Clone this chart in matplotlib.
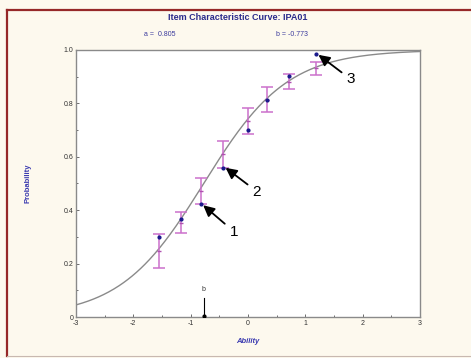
import numpy as np
import matplotlib
matplotlib.use("Agg")
import matplotlib.pyplot as plt
from matplotlib.lines import Line2D

# ---- data ----
a_param = 0.805
b_param = -0.773
D_const = 1.7
group_ability = [-1.55, -1.174, -0.825, -0.43, 0.006, 0.326, 0.72, 1.186]
observed_prop = [0.298, 0.366, 0.422, 0.559, 0.700, 0.811, 0.903, 0.986]
err_low = [0.185, 0.313, 0.425, 0.559, 0.687, 0.768, 0.853, 0.907]
err_high = [0.311, 0.394, 0.522, 0.660, 0.781, 0.861, 0.911, 0.955]
x_ticks = [-3, -2, -1, 0, 1, 2, 3]
x_tick_labels = ["-3", "-2", "-1", "0", "1", "2", "3"]
y_ticks = [0, 0.2, 0.4, 0.6, 0.8, 1.0]
y_tick_labels = ["0", "0.2", "0.4", "0.6", "0.8", "1.0"]
# annotation: (target x, target y, text x, text y, label)
arrows = [(-0.80, 0.422, -0.32, 0.32, "1"),
          (-0.41, 0.562, 0.08, 0.47, "2"),
          (1.21, 0.985, 1.72, 0.89, "3")]

font = ['Liberation Sans Narrow', 'Liberation Sans', 'DejaVu Sans']
plt.rcParams['font.family'] = font

fig = plt.figure(figsize=(4.71, 3.58), dpi=100)
fig.patch.set_facecolor('#fdf9ee')

# frame lines
fig.add_artist(Line2D([7/471, 7/471], [0.006, 1-10/358], transform=fig.transFigure,
                      color='#962828', lw=1.6))
fig.add_artist(Line2D([7/471, 1.0], [1-10/358, 1-10/358], transform=fig.transFigure,
                      color='#962828', lw=1.6))
fig.add_artist(Line2D([7/471, 1.0], [0.006, 0.006], transform=fig.transFigure,
                      color='#c8b8b0', lw=0.8))

ax = fig.add_axes([76/471, 1-317/358, 344/471, 267/358])
ax.set_facecolor('white')

xs = np.linspace(-3, 3, 400)
p = 1/(1+np.exp(-D_const*a_param*(xs-b_param)))
ax.plot(xs, p, color='#8a8a8a', lw=1.0, zorder=2)

gx = np.array(group_ability)
lo = np.array(err_low)
hi = np.array(err_high)
mid = (lo+hi)/2
ax.errorbar(gx, mid, yerr=[mid-lo, hi-mid], fmt='none', ecolor='#cc70cc',
            elinewidth=1.1, capsize=4.5, capthick=1.1, zorder=3)
ax.plot(gx, mid, linestyle='none', marker='_', color='#b050b0', ms=3, zorder=4)
ax.plot(gx, observed_prop, linestyle='none', marker='o', color='#1a1a8c', ms=2, zorder=5)

for tx, ty, lx, ly, lab in arrows:
    ax.annotate(lab, xy=(tx, ty), xytext=(lx, ly), fontsize=11, color='black',
                ha='left', va='center',
                arrowprops=dict(arrowstyle='-|>,head_length=0.6,head_width=0.3',
                                color='black', lw=1.3, shrinkA=2, shrinkB=1),
                zorder=6, annotation_clip=False)

# b marker
ax.plot([b_param, b_param], [0, 0.07], color='black', lw=0.8, zorder=4)
ax.plot([b_param], [0.003], marker='o', color='black', ms=2, zorder=4)
ax.text(b_param, 0.09, "b", fontsize=5, ha='center', va='bottom', color='#333333')

ax.set_xlim(-3, 3)
ax.set_ylim(0, 1.0)
ax.set_xticks(x_ticks)
ax.set_xticklabels(x_tick_labels)
ax.set_yticks(y_ticks)
ax.set_yticklabels(y_tick_labels)
ax.set_xticks(np.arange(-2.5, 3, 1.0), minor=True)
ax.set_yticks(np.arange(0.1, 1.0, 0.2), minor=True)
ax.tick_params(which='both', direction='in', length=2, width=0.6, color='#555555',
               labelsize=5, labelcolor='#333333', pad=2)
ax.tick_params(which='minor', length=1.5)
for s in ax.spines.values():
    s.set_color('#8a8a8a')
    s.set_linewidth(1.0)

ax.set_xlabel("Ability", fontsize=5.5, color='#3a3ab0', fontweight='bold',
              fontstyle='italic', labelpad=8)
ax.set_ylabel("Probability", fontsize=5.5, color='#3a3ab0', fontweight='bold',
              labelpad=23)

fig.text(238/471, 1-17/358, "Item Characteristic Curve: IPA01", fontsize=6.5,
         fontweight='bold', color='#2b2b8c', ha='center', va='center')
fig.text(160/471, 1-35/358, "a =  0.805", fontsize=5, color='#3a3a9c',
         ha='center', va='center')
fig.text(292/471, 1-35/358, "b = -0.773", fontsize=5, color='#3a3a9c',
         ha='center', va='center')

fig.savefig("out.png", dpi=100, facecolor=fig.get_facecolor())
